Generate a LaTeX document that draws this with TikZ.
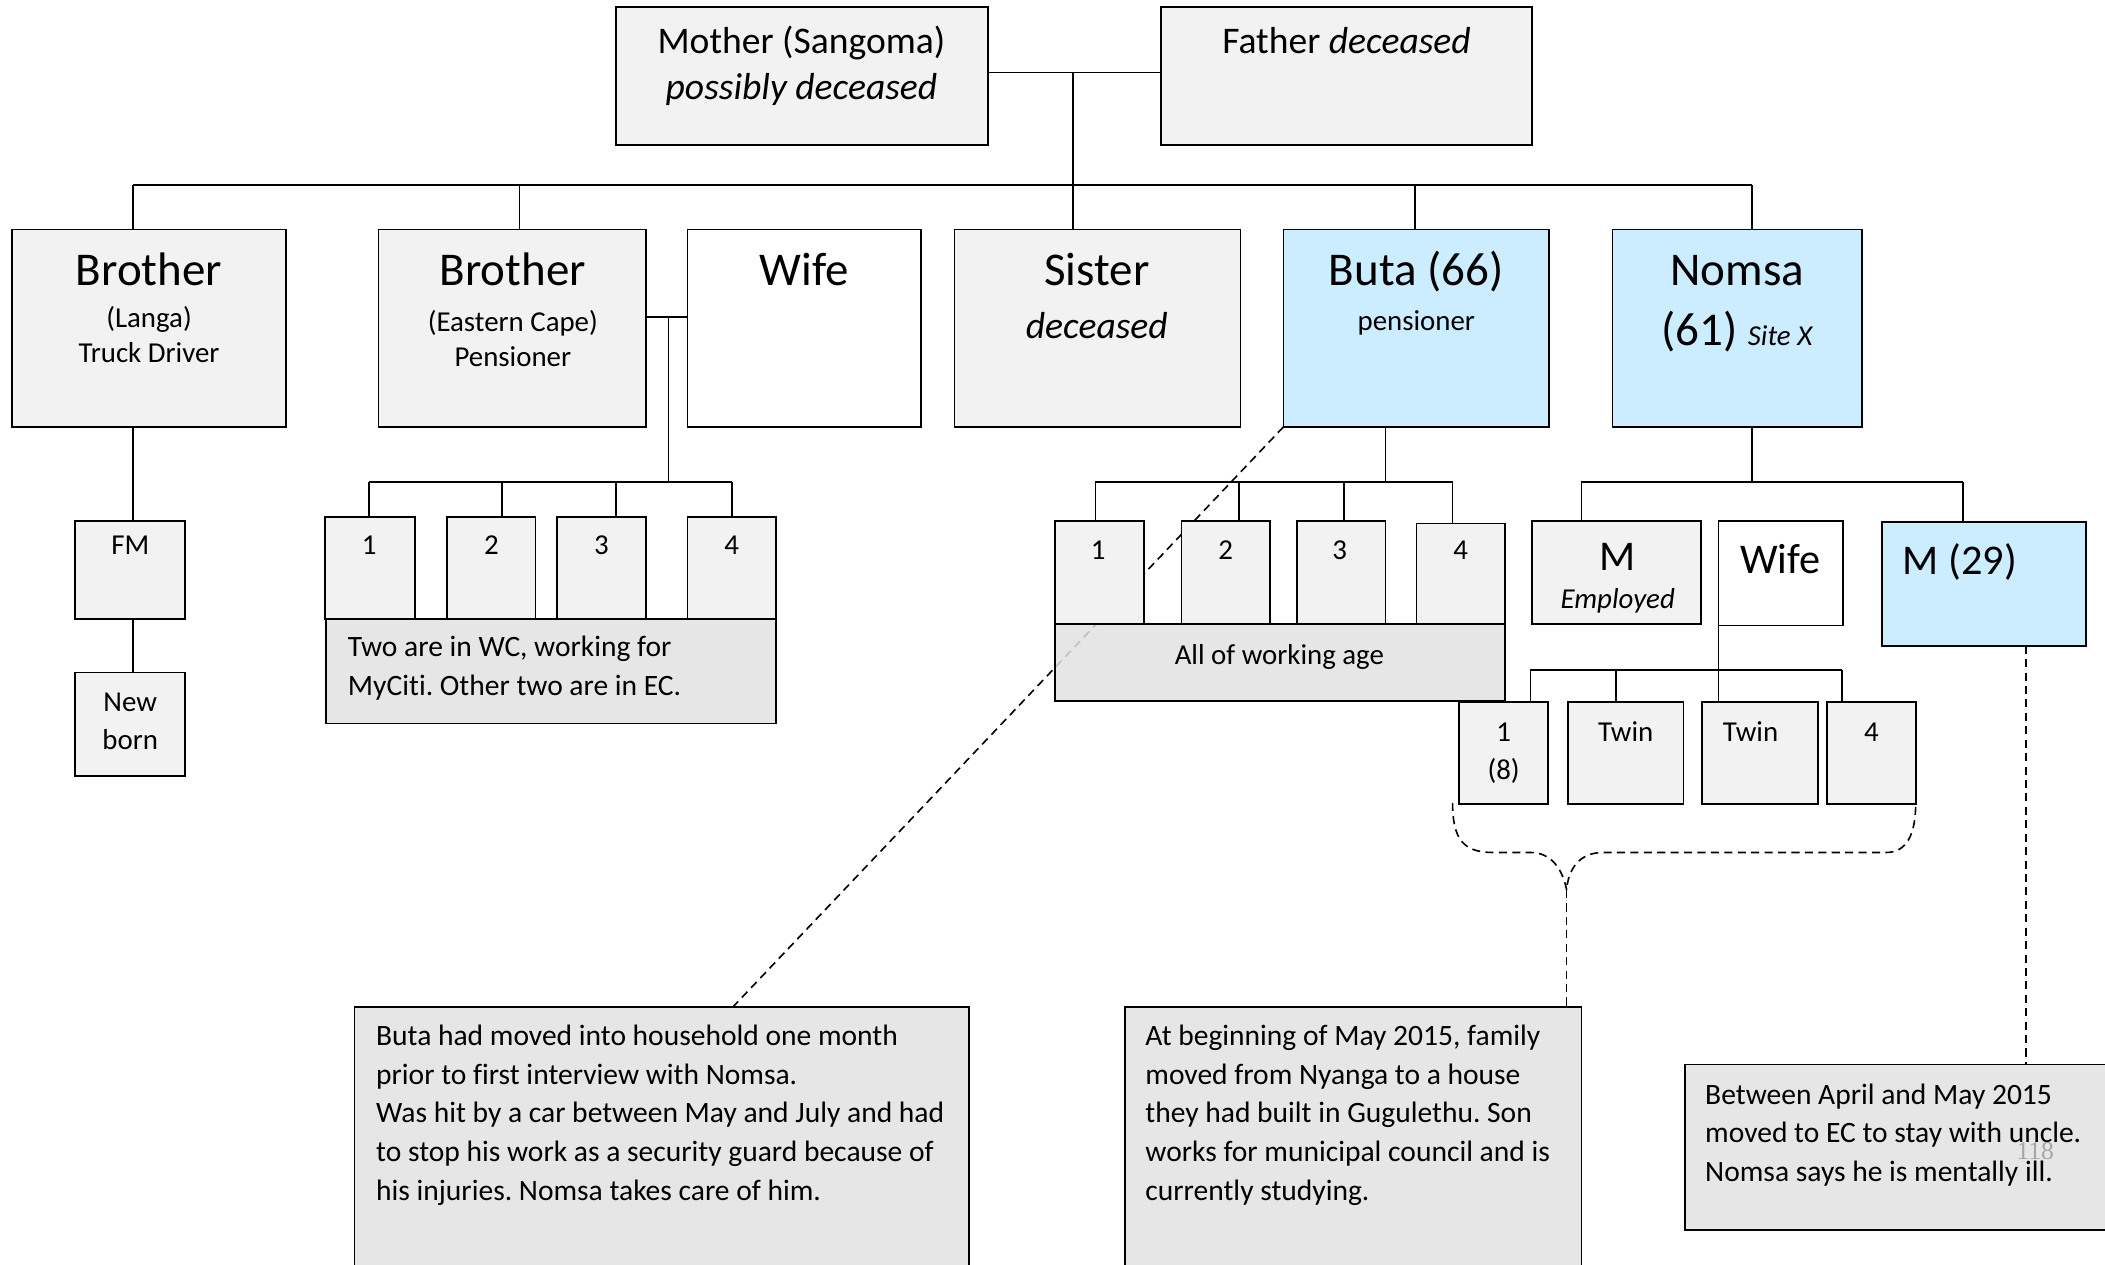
\documentclass[tikz,border=0pt]{standalone}
\usepackage{fontspec}
\setmainfont{Carlito}[Ligatures=CommonOff]
\newfontfamily\pagenumfont{Liberation Serif}
\usetikzlibrary{fit,calc,backgrounds}
\definecolor{boxgray}{HTML}{F2F2F2}
\definecolor{boxblue}{HTML}{CCECFF}
\definecolor{notegray}{HTML}{E2E2E2}
\newcommand{\fs}[2]{\fontsize{#1}{#2}\selectfont}
\frenchspacing

\begin{document}
\begin{tikzpicture}[x=1pt,y=-1pt,
  box/.style={draw=black, line width=1.2pt, fill=boxgray, inner sep=0pt, outer sep=0pt},
  bluebox/.style={box, fill=boxblue},
  whitebox/.style={box, fill=white},
  notebox/.style={box, fill=notegray, fill opacity=0.85},
  link/.style={line width=1.3pt},
  dashlink/.style={line width=1.2pt, dash pattern=on 6pt off 4pt},
  bigtxt/.style={anchor=base, inner sep=0pt, font=\fs{35}{42}},
  midtxt/.style={anchor=base, inner sep=0pt, font=\fs{31.5}{38}},
  toptxt/.style={anchor=base, inner sep=0pt, align=center, font=\fs{28}{34}},
  smalltxt/.style={anchor=base, inner sep=0pt, align=center, font=\fs{21.5}{26}},
  notetxt/.style={anchor=base west, inner sep=0pt, align=left, font=\fs{22}{28.8}},
]
\clip (0,0) rectangle (1568,942);

% parents
\node[box, fit={(459,5) (736,108)}] (mother) {};
\node[box, fit={(865,5) (1141,108)}] (father) {};

% siblings
\node[box, fit={(9,171) (213,318)}] (bro1) {};
\node[box, fit={(282,171) (481,318)}] (bro2) {};
\node[whitebox, fit={(512,171) (686,318)}] (wife1) {};
\node[box, fit={(711,171) (924,318)}] (sister) {};
\node[bluebox, fit={(956,171) (1154,318)}] (buta) {};
\node[bluebox, fit={(1201,171) (1387,318)}] (nomsa) {};

% first brother's line
\node[box, fit={(56,388) (138,461)}] (fm) {};
\node[box, fit={(56,501) (138,578)}] (newborn) {};

% second brother's children
\node[box, fit={(242,385) (309,461)}] (bk1) {};
\node[box, fit={(333,385) (399,461)}] (bk2) {};
\node[box, fit={(415,385) (481,461)}] (bk3) {};
\node[box, fit={(512,385) (578,461)}] (bk4) {};
\node[notebox, fit={(243,461) (578,539)}] (bnote) {};

% Buta's children
\node[box, fit={(786,388) (852,465)}] (ck1) {};
\node[box, fit={(880,388) (946,465)}] (ck2) {};
\node[box, fit={(966,388) (1032,465)}] (ck3) {};
\node[box, fit={(1055,390) (1121,465)}] (ck4) {};
\node[notebox, fit={(786,465) (1121,522)}] (cnote) {};

% Nomsa's children
\node[box, fit={(1141,388) (1267,465)}] (nm) {};
\node[whitebox, fit={(1280,388) (1373,466)}] (nwife) {};
\node[bluebox, fit={(1402,389) (1554,481)}] (m29) {};

% grandchildren
\node[box, fit={(1087,523) (1153,599)}] (wk1) {};
\node[box, fit={(1168,523) (1254,599)}] (wk2) {};
\node[box, fit={(1268,523) (1354,599)}] (wk3) {};
\node[box, fit={(1361,523) (1427,599)}] (wk4) {};

% notes
\node[notebox, fit={(264,750) (722,960)}] (noteL) {};
\node[notebox, fit={(838,750) (1178,960)}] (noteM) {};
\node[notebox, fit={(1255,793) (1580,916)}] (noteR) {};

% ---- solid connectors ----
\coordinate (py) at (0,54);
\coordinate (pm) at (799,54);
\draw[link] (mother.east |- py) -- (father.west |- py);
\coordinate (d1) at (99,138);
\coordinate (d2) at (387,138);
\coordinate (d4) at (1054,138);
\coordinate (d5) at (1305,138);
\draw[link] (pm) -- (pm |- sister.north);
\draw[link] (d1) -- (d5);
\draw[link] (d1) -- (d1 |- bro1.north);
\draw[link] (d2) -- (d2 |- bro2.north);
\draw[link] (d4) -- (d4 |- buta.north);
\draw[link] (d5) -- (d5 |- nomsa.north);

\draw[link] (d1 |- bro1.south) -- (d1 |- fm.north);
\draw[link] (d1 |- fm.south) -- (d1 |- newborn.north);

\coordinate (bw) at (498,236);
\draw[link] (bro2.east |- bw) -- (wife1.west |- bw);
\coordinate (bbar) at (498,359);
\draw[link] (bw) -- (bbar);
\coordinate (e1) at (275,359);
\coordinate (e2) at (374,359);
\coordinate (e3) at (459,359);
\coordinate (e4) at (545,359);
\draw[link] (e1) -- (e4);
\foreach \c/\k in {e1/bk1,e2/bk2,e3/bk3,e4/bk4}
  \draw[link] (\c) -- (\c |- \k.north);

\coordinate (cb) at (1032,359);
\draw[link] (cb |- buta.south) -- (cb);
\coordinate (f1) at (816,359);
\coordinate (f2) at (923,359);
\coordinate (f3) at (1001,359);
\coordinate (f4) at (1082,359);
\draw[link] (f1) -- (f4);
\foreach \c/\k in {f1/ck1,f2/ck2,f3/ck3,f4/ck4}
  \draw[link] (\c) -- (\c |- \k.north);

\coordinate (nb) at (1305,359);
\draw[link] (nb |- nomsa.south) -- (nb);
\coordinate (g1) at (1178,359);
\coordinate (g2) at (1462,359);
\draw[link] (g1) -- (g2);
\draw[link] (g1) -- (g1 |- nm.north);
\draw[link] (g2) -- (g2 |- m29.north);

\coordinate (wb) at (1280,499);
\draw[link] (wb |- nwife.south) -- (wb);
\coordinate (h1) at (1140,499);
\coordinate (h2) at (1204,499);
\coordinate (h3) at (1280,499);
\coordinate (h4) at (1372,499);
\draw[link] (h1) -- (h4);
\foreach \c/\k in {h1/wk1,h2/wk2,h3/wk3,h4/wk4}
  \draw[link] (\c) -- (\c |- \k.north);

% ---- dashed pointers to the notes ----
\begin{scope}[on background layer]
  \coordinate (lt) at (546,750);
  \draw[dashlink] (buta.south west) -- (lt |- noteL.north);
  \coordinate (braceL) at ($(wk1.south west)+(-5,-1)$);
  \coordinate (braceR) at ($(wk4.south east)+(0,-1)$);
  \coordinate (cusp) at (1167,663);
  \draw[dashlink] (braceL) .. controls (1082,625) and (1090,635) .. (1112,635)
    -- (1140,635) .. controls (1156,635) and (1164,648) .. (cusp)
    .. controls (1168,648) and (1176,635) .. (1194,635)
    -- (1405,635) .. controls (1420,635) and (1427,622) .. (braceR);
  \draw[dashlink] (cusp) -- (cusp |- noteM.north);
  \coordinate (mt) at (1509,481);
  \draw[dashlink] (mt |- m29.south) -- (mt |- noteR.north);
\end{scope}

% ---- texts (multi-line nodes sit on the baseline of their last line) ----
\node[toptxt] (t-mother) at (597,74) {Mother (Sangoma)\\\textit{possibly deceased}};
\node[toptxt] (t-father) at (1003,40) {Father \textit{deceased}};

\node[bigtxt] (t-bro1) at (111,213) {Brother};
\node[smalltxt] (t-bro1b) at (111,270) {(Langa)\\Truck Driver};
\node[bigtxt] (t-bro2) at (382,213) {Brother};
\node[smalltxt] (t-bro2b) at (382,273) {(Eastern Cape)\\Pensioner};
\node[bigtxt] (t-wife1) at (599,213) {Wife};
\node[bigtxt] (t-sister) at (817,213) {Sister};
\node[toptxt] (t-sisterb) at (817,252) {\textit{deceased}};
\node[bigtxt] (t-buta) at (1055,213) {Buta (66)};
\node[smalltxt] (t-butab) at (1055,246) {pensioner};
\node[bigtxt] (t-nomsa) at (1294,213) {Nomsa};
\node[bigtxt] (t-nomsab) at (1294,257) {(61) {\fs{21.5}{26}\textit{Site X}}};

\node[smalltxt] (t-fm) at (97,413) {FM};
\node[smalltxt, font=\fs{21.5}{28}] (t-newborn) at (97,558) {New\\born};

\node[smalltxt] (t-bk1) at (275,413) {1};
\node[smalltxt] (t-bk2) at (366,413) {2};
\node[smalltxt] (t-bk3) at (448,413) {3};
\node[smalltxt] (t-bk4) at (545,413) {4};
\node[notetxt] (t-bnote) at (259,518) {Two are in WC, working for\\MyCiti. Other two are in EC.};

\node[smalltxt] (t-ck1) at (818,417) {1};
\node[smalltxt] (t-ck2) at (913,417) {2};
\node[smalltxt] (t-ck3) at (998,417) {3};
\node[smalltxt] (t-ck4) at (1088,417) {4};
\node[smalltxt] (t-cnote) at (953,495) {All of working age};

\node[midtxt] (t-nm) at (1205,425) {M};
\node[smalltxt] (t-nmb) at (1205,453) {\textit{Employed}};
\node[midtxt] (t-nwife) at (1326,427) {Wife};
\node[midtxt] (t-m29) at (1460,428) {M (29)};

\node[smalltxt] (t-wk1) at (1120,581) {1\\[3pt](8)};
\node[smalltxt] (t-wk2) at (1211,552) {Twin};
\node[smalltxt] (t-wk3) at (1304,552) {Twin};
\node[smalltxt] (t-wk4) at (1394,552) {4};

\node[notetxt] (t-noteL) at (280,894) {Buta had moved into household one month\\prior to first interview with Nomsa.\\Was hit by a car between May and July and had\\to stop his work as a security guard because of\\his injuries. Nomsa takes care of him.};
\node[notetxt] (t-noteM) at (853,894) {At beginning of May 2015, family\\moved from Nyanga to a house\\they had built in Gugulethu. Son\\works for municipal council and is\\currently studying.};
\node[notetxt] (t-noteR) at (1270,880) {Between April and May 2015\\moved to EC to stay with uncle.\\Nomsa says he is mentally ill.};
\node[anchor=base, inner sep=0pt, text=gray!70, font=\pagenumfont\fs{19}{22}] (pagenum) at (1516,864) {118};
\end{tikzpicture}
\end{document}
